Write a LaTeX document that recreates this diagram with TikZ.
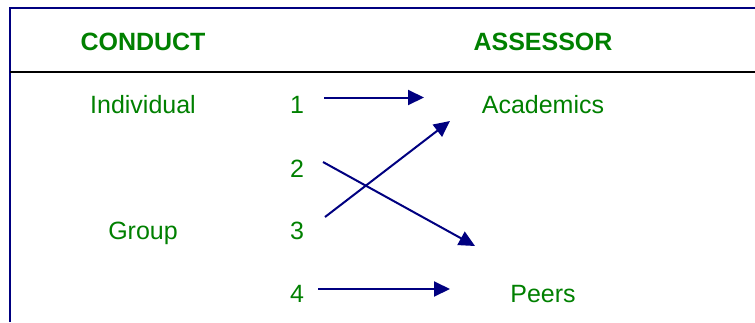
\documentclass[tikz,border=0pt]{standalone}
\usepackage{fontspec}
\setmainfont{Liberation Sans}
\usetikzlibrary{arrows.meta}
\definecolor{leafgreen}{RGB}{0,128,0}
\definecolor{navyline}{RGB}{0,0,128}

\begin{document}
\begin{tikzpicture}[x=1pt, y=-1pt,
	every node/.style={font=\fontsize{25}{30}\selectfont, text=leafgreen, anchor=base, inner sep=0pt},
	head/.style={font=\fontsize{25}{30}\selectfont\bfseries},
	flow/.style={navyline, line width=2pt, -{Triangle[length=16pt, width=15pt]}}]
	\useasboundingbox (0,0) rectangle (755,322);
	\draw[navyline, line width=2pt] (10,322) -- (10,8) -- (755,8);
	\draw[black, line width=2pt] (10,72) -- (755,72);
	\node[head] (conduct) at (143,50) {CONDUCT};
	\node[head] (assessor) at (543,50) {ASSESSOR};
	\node (individual) at (143,113) {Individual};
	\node (group) at (143,239) {Group};
	\node (academics) at (543,113) {Academics};
	\node (peers) at (543,302) {Peers};
	\foreach \n/\y in {1/113, 2/177, 3/239, 4/302}
		\node (num\n) at (297,\y) {\n};
	\foreach \n/\sx/\sy/\ex/\ey in {1/324/97.5/424/97.5, 2/323/162/475/246, 3/325/217/450/121, 4/318/289/450/289} {
		\coordinate (start\n) at (\sx,\sy);
		\coordinate (end\n) at (\ex,\ey);
		\draw[flow] (start\n) -- (end\n);
	}
\end{tikzpicture}
\end{document}
